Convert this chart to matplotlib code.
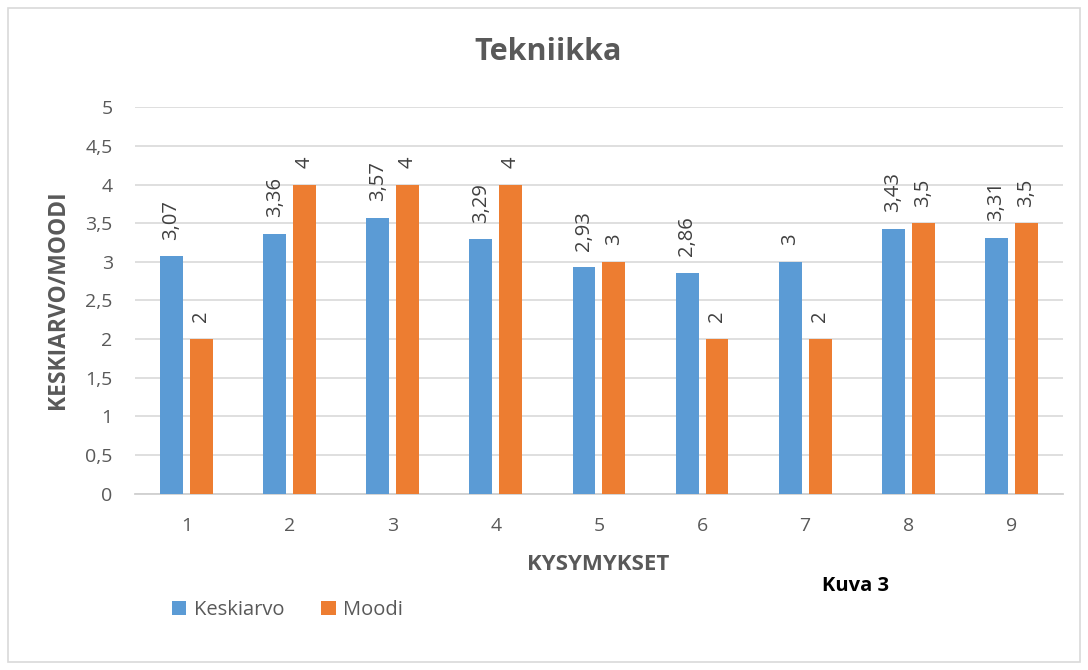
import numpy as np
import matplotlib.pyplot as plt
from matplotlib.patches import Rectangle

plt.rcParams['font.family'] = ['Open Sans', 'DejaVu Sans']

categories = ['1', '2', '3', '4', '5', '6', '7', '8', '9']
keskiarvo = [3.07, 3.36, 3.57, 3.29, 2.93, 2.86, 3.0, 3.43, 3.31]
moodi = [2, 4, 4, 4, 3, 2, 2, 3.5, 3.5]
yticks = [0, 0.5, 1, 1.5, 2, 2.5, 3, 3.5, 4, 4.5, 5]

BLUE = '#5B9BD5'
ORANGE = '#ED7D31'
GRAY = '#595959'


def fi(v):
    # Finnish decimal comma, no trailing zeros
    s = ('%.2f' % v).rstrip('0').rstrip('.')
    return s.replace('.', ',')


fig = plt.figure(figsize=(10.88, 6.70), dpi=100)
ax = fig.add_axes([0.124, 0.263, 0.853, 0.577])

x = np.arange(len(categories))
w = 0.222
off = 0.145
b1 = ax.bar(x - off, keskiarvo, w, color=BLUE, label='Keskiarvo', zorder=3)
b2 = ax.bar(x + off, moodi, w, color=ORANGE, label='Moodi', zorder=3)

for bars, vals in ((b1, keskiarvo), (b2, moodi)):
    for r, v in zip(bars, vals):
        ax.annotate(fi(v), (r.get_x() + r.get_width() / 2, r.get_height()),
                    xytext=(0, 12), textcoords='offset points', rotation=90,
                    ha='center', va='bottom', fontsize=14.5, color='#404040')

ax.set_xlim(-0.5, len(categories) - 0.5)
ax.set_ylim(0, 5)
ax.set_yticks(yticks)
ax.set_yticklabels([fi(t) for t in yticks])
ax.set_xticks(x)
ax.set_xticklabels(categories)
ax.tick_params(axis='both', length=0, labelsize=14, colors=GRAY)
ax.tick_params(axis='y', pad=16)
ax.tick_params(axis='x', pad=17)
ax.grid(axis='y', color='#D9D9D9', linewidth=1.2, zorder=0)
for s in ('top', 'right', 'left'):
    ax.spines[s].set_visible(False)
ax.spines['bottom'].set_color('#D0D0D0')
ax.spines['bottom'].set_linewidth(1.3)

fig.text(58 / 1088, 0.553, 'KESKIARVO/MOODI', rotation=90, ha='center', va='center',
         fontsize=16.5, fontweight='bold', color=GRAY)
fig.text(0.55, 1 - 564 / 670, 'KYSYMYKSET', ha='center', va='center',
         fontsize=16, fontweight='bold', color=GRAY)
fig.text(0.504, 1 - 52 / 670, 'Tekniikka', ha='center', va='center', fontsize=22,
         fontweight='bold', color=GRAY)
fig.text(856 / 1088, 1 - 586 / 670, 'Kuva 3', ha='center', va='center', fontsize=14.5,
         fontweight='bold', color='black')

leg = fig.legend(handles=[b1, b2], loc='center left', bbox_to_anchor=(0.158, 1 - 610 / 670),
                 ncol=2, frameon=False, fontsize=14.5, handlelength=0.72,
                 handleheight=0.72, handletextpad=0.36, columnspacing=1.85,
                 borderpad=0, borderaxespad=0)
for t in leg.get_texts():
    t.set_color(GRAY)

fig.patches.append(Rectangle((8 / 1088, 8 / 670), 1072 / 1088, 654 / 670,
                             transform=fig.transFigure, fill=False,
                             edgecolor='#D9D9D9', linewidth=1.2))

fig.savefig('out.png', dpi=100)
